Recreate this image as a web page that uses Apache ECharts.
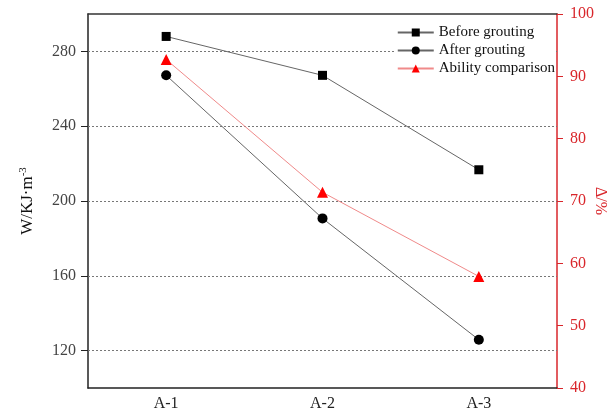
<!DOCTYPE html>
<html>
<head>
<meta charset="utf-8">
<script src="https://cdn.jsdelivr.net/npm/echarts@6/dist/echarts.min.js"></script>
<style>
  html, body { margin: 0; padding: 0; background: #fff; }
  #chart { width: 608px; height: 416px; }
</style>
</head>
<body>
<div id="chart"></div>
<script>
// Specimen groups along the x axis
const categories = ['A-1', 'A-2', 'A-3'];
// Energy density W (KJ·m^-3), left axis
const beforeGrouting = [288.0, 267.2, 216.7];
const afterGrouting = [267.2, 190.7, 125.8];
// Ratio after/before (%), right axis
const abilityComparison = [92.7, 71.4, 57.9];
// Labelled ticks on the left axis
const leftTicks = [120, 160, 200, 240, 280];

const serif = '"Liberation Serif", "DejaVu Serif", serif';
const red = '#d9262b';

const chart = echarts.init(document.getElementById('chart'));

chart.setOption({
  animation: false,
  backgroundColor: '#fff',
  textStyle: { fontFamily: serif },
  grid: { left: 88, right: 51, top: 14, bottom: 28, outerBoundsMode: 'none', containLabel: false },
  legend: {
    orient: 'vertical',
    right: 52,
    top: 23,
    itemWidth: 36,
    itemHeight: 10,
    itemGap: 3,
    padding: [2, 1, 2, 2],
    backgroundColor: '#fff',
    textStyle: { fontFamily: serif, fontSize: 15, color: '#111' },
    data: ['Before grouting', 'After grouting', 'Ability comparison']
  },
  xAxis: [
    {
      type: 'category',
      data: categories,
      position: 'bottom',
      axisLine: { lineStyle: { color: '#222', width: 1.5 } },
      axisTick: { alignWithLabel: true, length: 5, lineStyle: { color: '#222' } },
      axisLabel: { fontFamily: serif, fontSize: 16, color: '#222', margin: 8 },
      splitLine: { show: false }
    },
    {
      type: 'category',
      data: categories,
      position: 'bottom',
      axisLine: { show: false },
      axisTick: { length: 3, lineStyle: { color: '#222' } },
      axisLabel: { show: false },
      splitLine: { show: false }
    },
    {
      type: 'category',
      data: categories,
      position: 'top',
      axisLine: { lineStyle: { color: '#333', width: 1.5 } },
      axisTick: { show: false },
      axisLabel: { show: false },
      splitLine: { show: false }
    }
  ],
  yAxis: [
    {
      type: 'value',
      min: 100,
      max: 300,
      interval: 20,
      position: 'left',
      name: '{n|W/KJ·m}{s|-3}',
      nameLocation: 'middle',
      nameGap: 51,
      nameRotate: 90,
      nameTextStyle: {
        rich: {
          n: { fontFamily: serif, fontSize: 17, color: '#111' },
          s: { fontFamily: serif, fontSize: 11, color: '#111', verticalAlign: 'top', padding: [0, 0, 8, 0] }
        }
      },
      axisLine: { show: true, lineStyle: { color: '#222', width: 1.5 } },
      axisTick: { show: true, length: 7, customValues: leftTicks, lineStyle: { color: '#222' } },
      axisLabel: { fontFamily: serif, fontSize: 16, color: '#444', margin: 12, customValues: leftTicks },
      splitLine: { show: false }
    },
    {
      type: 'value',
      min: 40,
      max: 100,
      interval: 10,
      position: 'right',
      name: 'Δ/%',
      nameLocation: 'middle',
      nameGap: 35,
      nameRotate: -90,
      nameMoveOverlap: false,
      nameTextStyle: { fontFamily: serif, fontSize: 16, color: red },
      axisLine: { show: true, lineStyle: { color: red, width: 1.5 } },
      axisTick: { show: true, length: 6, lineStyle: { color: red } },
      axisLabel: { fontFamily: serif, fontSize: 16, color: red, margin: 13 },
      splitLine: { show: false }
    }
  ],
  series: [
    {
      name: 'Before grouting',
      type: 'line',
      yAxisIndex: 0,
      data: beforeGrouting,
      symbol: 'rect',
      symbolSize: 9,
      itemStyle: { color: '#000' },
      lineStyle: { color: '#666', width: 1 },
      z: 3,
      markLine: {
        silent: true,
        symbol: 'none',
        label: { show: false },
        lineStyle: { color: '#777', type: [2, 2], width: 1 },
        data: leftTicks.map(v => ({ yAxis: v })),
        z: 1
      }
    },
    {
      name: 'After grouting',
      type: 'line',
      yAxisIndex: 0,
      data: afterGrouting,
      symbol: 'circle',
      symbolSize: 10,
      itemStyle: { color: '#000' },
      lineStyle: { color: '#666', width: 1 },
      z: 3
    },
    {
      name: 'Ability comparison',
      type: 'line',
      yAxisIndex: 1,
      data: abilityComparison,
      symbol: 'triangle',
      symbolSize: 11,
      itemStyle: { color: '#ff0000' },
      lineStyle: { color: '#f08a8a', width: 1 },
      z: 3
    }
  ]
});
</script>
</body>
</html>
